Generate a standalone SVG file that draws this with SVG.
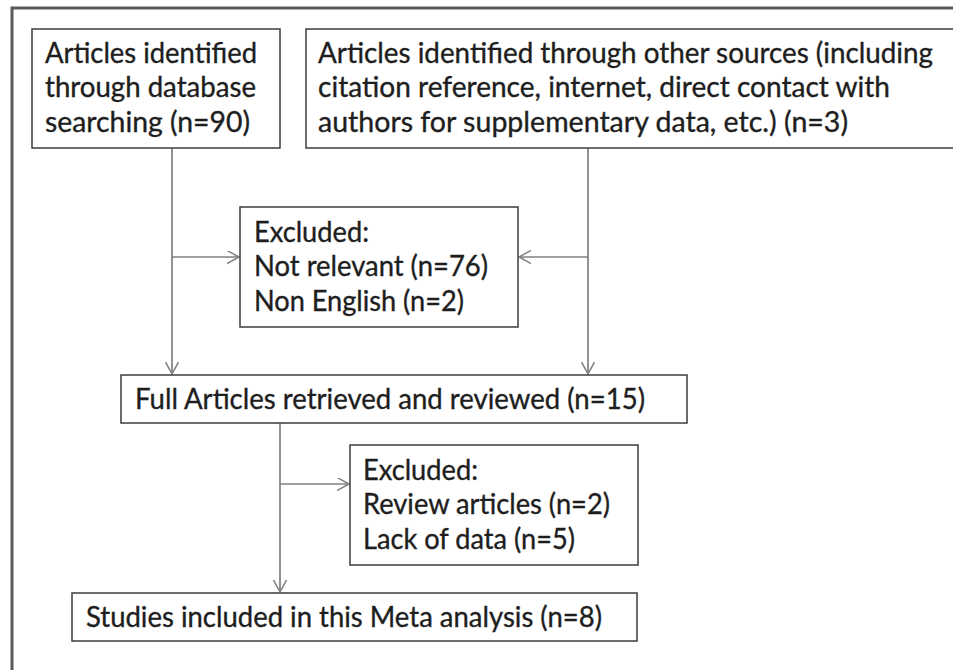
<svg xmlns="http://www.w3.org/2000/svg" width="953" height="670" viewBox="0 0 953 670">
<defs>
<style>
.frame{fill:none;stroke:#5a5a5a;stroke-width:3}
.box{fill:#ffffff;stroke:#3c3c3c;stroke-width:1.5}
.t{font-family:Lato,"Liberation Sans",sans-serif;font-size:28px;fill:#1e1e1e;stroke:#1e1e1e;stroke-width:0.35}
.c{fill:none;stroke:#808080;stroke-width:1.7}
</style>
<marker id="ah" markerUnits="userSpaceOnUse" markerWidth="14" markerHeight="14" refX="12" refY="6.5" orient="auto">
<path d="M0,0 L12,6.5 L0,13" fill="none" stroke="#808080" stroke-width="1.5"/>
</marker>
</defs>
<rect width="953" height="670" fill="#ffffff"/>
<rect class="frame" x="12" y="8" width="1000" height="720"/>
<g id="connectors">
<path class="c" d="M172,148 V374" marker-end="url(#ah)"/>
<path class="c" d="M172,257 H239" marker-end="url(#ah)"/>
<path class="c" d="M588,148 V374" marker-end="url(#ah)"/>
<path class="c" d="M588,257 H519" marker-end="url(#ah)"/>
<path class="c" d="M280,423 V592" marker-end="url(#ah)"/>
<path class="c" d="M280,484 H349" marker-end="url(#ah)"/>
</g>
<g id="db">
<rect class="box" x="32" y="29" width="248" height="119"/>
<text class="t" x="45" y="62.5" textLength="212" lengthAdjust="spacingAndGlyphs">Articles identified</text>
<text class="t" x="45" y="97" textLength="211" lengthAdjust="spacingAndGlyphs">through database</text>
<text class="t" x="45" y="131.5" textLength="205" lengthAdjust="spacingAndGlyphs">searching  (n=90)</text>
</g>
<g id="other">
<rect class="box" x="306" y="29" width="700" height="119"/>
<text class="t" x="318" y="62.5" textLength="615" lengthAdjust="spacingAndGlyphs">Articles identified through other sources (including</text>
<text class="t" x="318" y="97" textLength="572" lengthAdjust="spacingAndGlyphs">citation reference, internet,  direct contact with</text>
<text class="t" x="318" y="131.5" textLength="530" lengthAdjust="spacingAndGlyphs">authors for supplementary data, etc.)  (n=3)</text>
</g>
<g id="excl1">
<rect class="box" x="240" y="207" width="278" height="120"/>
<text class="t" x="254" y="241.5" textLength="115" lengthAdjust="spacingAndGlyphs">Excluded:</text>
<text class="t" x="254" y="276" textLength="234" lengthAdjust="spacingAndGlyphs">Not relevant (n=76)</text>
<text class="t" x="254" y="310.5" textLength="210" lengthAdjust="spacingAndGlyphs">Non English (n=2)</text>
</g>
<g id="full">
<rect class="box" x="121" y="375" width="566" height="48"/>
<text class="t" x="135" y="409" textLength="510" lengthAdjust="spacingAndGlyphs">Full Articles retrieved and reviewed (n=15)</text>
</g>
<g id="excl2">
<rect class="box" x="350" y="445" width="288" height="120"/>
<text class="t" x="363" y="479.5" textLength="115" lengthAdjust="spacingAndGlyphs">Excluded:</text>
<text class="t" x="363" y="514" textLength="247" lengthAdjust="spacingAndGlyphs">Review articles (n=2)</text>
<text class="t" x="363" y="548.5" textLength="212" lengthAdjust="spacingAndGlyphs">Lack of data (n=5)</text>
</g>
<g id="included">
<rect class="box" x="72" y="593" width="565" height="48"/>
<text class="t" x="86" y="627" textLength="516" lengthAdjust="spacingAndGlyphs">Studies included in this Meta analysis (n=8)</text>
</g>
</svg>
